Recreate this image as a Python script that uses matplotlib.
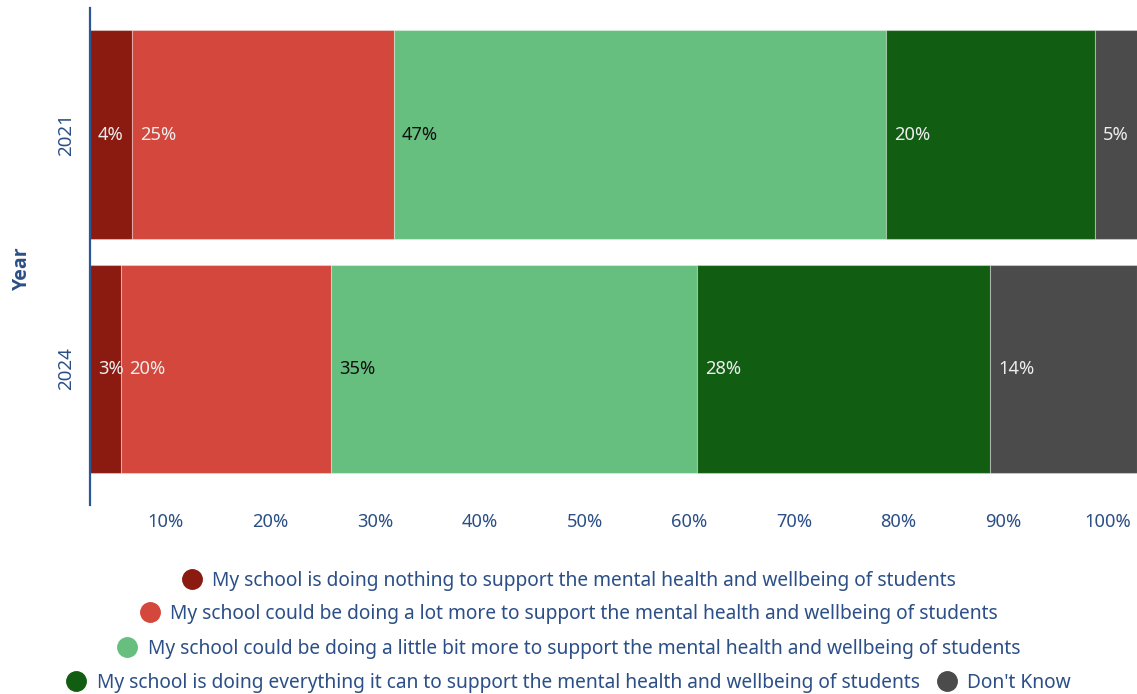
import matplotlib
matplotlib.use("Agg")
import matplotlib.pyplot as plt
from matplotlib.transforms import ScaledTranslation
from matplotlib.lines import Line2D

plt.rcParams['font.family'] = ['Noto Sans', 'DejaVu Sans']

years = ["2021", "2024"]
categories = [
    "My school is doing nothing to support the mental health and wellbeing of students",
    "My school could be doing a lot more to support the mental health and wellbeing of students",
    "My school could be doing a little bit more to support the mental health and wellbeing of students",
    "My school is doing everything it can to support the mental health and wellbeing of students",
    "Don't Know",
]
values_2021 = [4, 25, 47, 20, 5]
values_2024 = [3, 20, 35, 28, 14]
colors = ["#8B1A10", "#D3473D", "#66BF7F", "#115E12", "#4B4B4B"]
label_colors = ["#EDEDED", "#EDEDED", "#111111", "#EDEDED", "#EDEDED"]
xticks = [10, 20, 30, 40, 50, 60, 70, 80, 90, 100]
xtick_labels = [f"{t}%" for t in xticks]

text_color = "#2B4F86"
series = [values_2021, values_2024]

fig = plt.figure(figsize=(11.37, 6.94), dpi=100)
ax = fig.add_axes([90 / 1137, 189 / 694, 1047 / 1137, 497 / 694])

ypos = list(range(len(years)))
for ci, cat in enumerate(categories):
    vals = [s[ci] for s in series]
    lefts = [sum(s[:ci]) for s in series]
    ax.barh(ypos, vals, left=lefts, height=0.89, color=colors[ci],
            edgecolor=(1, 1, 1, 0.35), linewidth=0.8, label=cat)
    for y, v, l in zip(ypos, vals, lefts):
        off = ScaledTranslation(8 / 100, 0, fig.dpi_scale_trans)
        ax.text(l, y, f"{v}%", transform=ax.transData + off,
                ha="left", va="center", fontsize=13.2, color=label_colors[ci],
                clip_on=True)

ax.set_xlim(0, 100)
ax.set_ylim(1.58, -0.54)
ax.set_yticks(ypos)
ax.set_yticklabels(years, rotation=90, va="center", color=text_color, fontsize=13.5)
ax.set_xticks(xticks)
ax.set_xticklabels(xtick_labels, color=text_color, fontsize=13.2)
ax.tick_params(axis="both", length=0)
ax.tick_params(axis="x", pad=6)
ax.tick_params(axis="y", pad=10.5)
# x labels sit a little to the left of their tick positions
shift = ScaledTranslation(-29 / 100, 0, fig.dpi_scale_trans)
for lab in ax.get_xticklabels():
    lab.set_transform(lab.get_transform() + shift)

for s in ["top", "right", "bottom"]:
    ax.spines[s].set_visible(False)
ax.spines["left"].set_color("#2B5797")
ax.spines["left"].set_linewidth(1.6)

ax.set_ylabel("Year", fontsize=14, fontweight="bold", color=text_color,
              family=["Open Sans", "DejaVu Sans"])
ax.yaxis.set_label_coords(-0.055, 0.477)

# Legend laid out in rows, centred under the chart
handles = [Line2D([], [], marker="o", linestyle="none", markersize=14,
                  markerfacecolor=c, markeredgecolor=c) for c in colors]
rows = [[0], [1], [2], [3, 4]]
row_y = [581, 614, 649, 683]
for r, yy in zip(rows, row_y):
    leg = fig.legend([handles[i] for i in r], [categories[i] for i in r],
                     loc="center", bbox_to_anchor=(568 / 1137, 1 - yy / 694),
                     ncol=len(r), frameon=False, fontsize=13.8,
                     handletextpad=0.45, columnspacing=0.85, handlelength=1.2,
                     borderpad=0, borderaxespad=0)
    for t in leg.get_texts():
        t.set_color(text_color)

fig.savefig("out.png", dpi=100)
